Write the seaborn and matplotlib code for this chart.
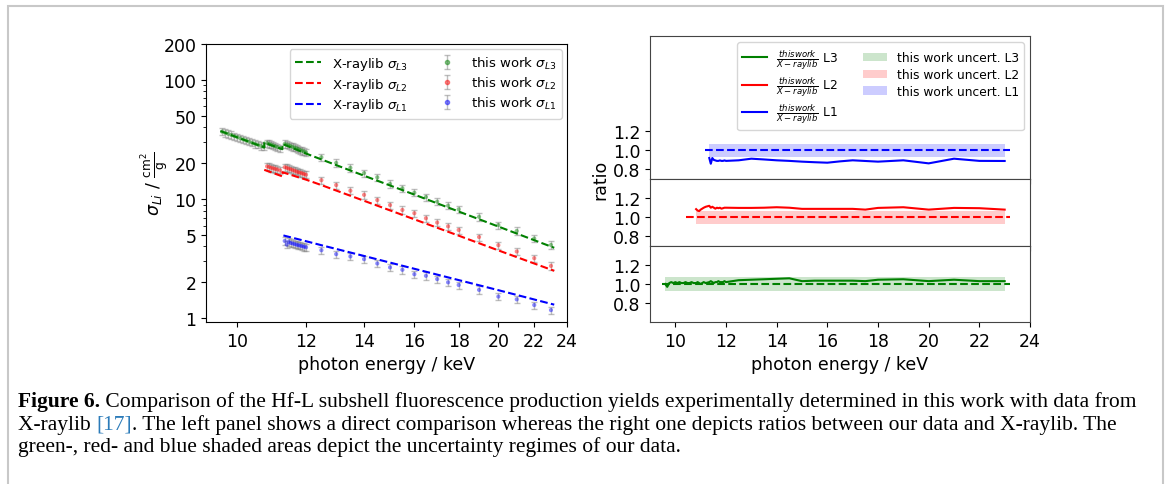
import numpy as np
import pandas as pd
import matplotlib
matplotlib.use("Agg")
import matplotlib.pyplot as plt
import seaborn as sns
from matplotlib.lines import Line2D
from matplotlib.patches import Patch, Rectangle
from matplotlib.legend_handler import HandlerTuple
from matplotlib.ticker import FixedLocator, NullLocator, NullFormatter, FuncFormatter, LogLocator

# ---------------- data ----------------
E_SEG_A = [9.60, 9.68, 9.76, 9.84, 9.92, 10.00, 10.08, 10.16, 10.24, 10.32, 10.40, 10.48, 10.56, 10.64, 10.72]
E_SEG_B = [10.82, 10.88, 10.94, 11.00, 11.06, 11.12, 11.20]
E_SEG_C = [11.34, 11.40, 11.46, 11.52, 11.58, 11.64, 11.70, 11.76, 11.82, 11.88, 11.94, 12.00]
E_SPARSE = [12.5, 13.0, 13.5, 14.0, 14.5, 15.0, 15.5, 16.0, 16.5, 17.0, 17.5, 18.0, 19.0, 20.0, 21.0, 22.0, 23.0]

E_L3 = E_SEG_A + E_SEG_B + E_SEG_C + E_SPARSE
E_L2 = E_SEG_B + E_SEG_C + E_SPARSE
E_L1 = E_SEG_C + E_SPARSE

WORK_L3 = [36.8, 36.0, 35.2, 34.5, 33.7, 33.0, 32.3, 31.6, 31.0, 30.3, 29.7, 29.1, 28.6, 28.0, 27.5,
           29.5, 29.0, 28.6, 28.1, 27.7, 27.3, 26.8,
           29.0, 28.6, 28.2, 27.8, 27.4, 27.0, 26.6, 26.2, 25.8, 25.4, 25.0, 24.6,
           22.4, 20.1, 18.3, 16.5, 15.2, 13.4, 12.3, 11.3, 10.4, 9.5, 8.8, 8.2, 7.1, 6.05, 5.4, 4.66, 4.12]
WORK_L2 = [18.8, 18.6, 18.3, 18.1, 17.9, 17.7, 17.4,
           18.5, 18.3, 18.0, 17.8, 17.5, 17.3, 17.0, 16.8, 16.6, 16.4, 16.2, 16.0,
           14.4, 13.1, 11.75, 10.85, 9.8, 8.9, 8.1, 7.6, 6.9, 6.35, 5.9, 5.5, 4.8, 4.1, 3.63, 3.19, 2.75]
WORK_L1 = [4.45, 4.15, 4.38, 4.28, 4.24, 4.19, 4.14, 4.10, 4.06, 4.02, 3.98, 3.94,
           3.72, 3.45, 3.30, 3.13, 2.88, 2.67, 2.55, 2.34, 2.27, 2.13, 2.00, 1.90, 1.73, 1.52, 1.44, 1.29, 1.17]

RATIO_L3 = [1.00, 0.97, 1.01, 1.02, 1.01, 1.02, 1.01, 1.02, 1.01, 1.01, 1.02, 1.01, 1.01, 1.02, 1.01,
            1.01, 1.02, 1.01, 1.00, 1.01, 1.02, 1.01,
            1.02, 1.03, 1.02, 1.01, 1.02, 1.02, 1.03, 1.02, 1.02, 1.02, 1.03, 1.02,
            1.04, 1.045, 1.05, 1.055, 1.06, 1.03, 1.035, 1.035, 1.035, 1.035, 1.03, 1.045, 1.05, 1.03, 1.045, 1.03, 1.03]
RATIO_L2 = [1.085, 1.07, 1.065, 1.08, 1.09, 1.10, 1.11,
            1.12, 1.10, 1.11, 1.10, 1.09, 1.10, 1.095, 1.10, 1.09, 1.095, 1.10, 1.10,
            1.098, 1.098, 1.10, 1.105, 1.10, 1.088, 1.088, 1.088, 1.088, 1.088, 1.08, 1.098, 1.105, 1.08, 1.098, 1.095, 1.08]
RATIO_L1 = [0.92, 0.86, 0.92, 0.90, 0.895, 0.89, 0.89, 0.895, 0.89, 0.89, 0.895, 0.89,
            0.896, 0.913, 0.905, 0.896, 0.89, 0.882, 0.876, 0.871, 0.885, 0.896, 0.889, 0.882, 0.896, 0.864, 0.913, 0.89, 0.889]

XRL_E_L3 = [9.56, 10.74, 10.74, 11.27, 11.27, 12.0, 12.5, 14.0, 16.0, 18.0, 20.0, 23.2]
XRL_L3 = [37.2, 27.1, 29.7, 26.2, 29.0, 24.1, 21.5, 15.7, 10.9, 7.86, 5.88, 3.9]
XRL_E_L2 = [10.74, 11.27, 11.27, 12.0, 12.5, 14.0, 16.0, 18.0, 20.0, 23.2]
XRL_L2 = [17.6, 15.5, 16.8, 14.55, 13.1, 9.67, 6.76, 4.93, 3.71, 2.50]
XRL_E_L1 = [11.30, 12.0, 12.5, 14.0, 16.0, 18.0, 20.0, 23.2]
XRL_L1 = [4.95, 4.43, 4.10, 3.33, 2.60, 2.09, 1.72, 1.30]

REF_SPAN_L3 = [9.47, 23.2]
REF_SPAN_L2 = [10.43, 23.2]
REF_SPAN_L1 = [11.19, 23.2]

UNCERT = {"L3": 0.07, "L2": 0.07, "L1": 0.07}

SHELLS = ["L3", "L2", "L1"]
COLORS = {"L3": "green", "L2": "red", "L1": "blue"}
E = {"L3": E_L3, "L2": E_L2, "L1": E_L1}
WORK = {"L3": WORK_L3, "L2": WORK_L2, "L1": WORK_L1}
RATIO = {"L3": RATIO_L3, "L2": RATIO_L2, "L1": RATIO_L1}
XRL_E = {"L3": XRL_E_L3, "L2": XRL_E_L2, "L1": XRL_E_L1}
XRL = {"L3": XRL_L3, "L2": XRL_L2, "L1": XRL_L1}
REF_SPAN = {"L3": REF_SPAN_L3, "L2": REF_SPAN_L2, "L1": REF_SPAN_L1}

LEFT_YTICKS = [1, 2, 5, 10, 20, 50, 100, 200]
XTICKS = [10, 12, 14, 16, 18, 20, 22, 24]
RATIO_TICKS = [0.8, 1.0, 1.2]

CAPTION = [
    [("Figure 6.", "bold", "black"),
     (" Comparison of the Hf-L subshell fluorescence production yields experimentally determined in this work with data from", "normal", "black")],
    [("X-raylib ", "normal", "black"), ("[17]", "normal", "#2b7bb9"),
     (". The left panel shows a direct comparison whereas the right one depicts ratios between our data and X-raylib. The", "normal", "black")],
    [("green-, red- and blue shaded areas depict the uncertainty regimes of our data.", "normal", "black")],
]

# ---------------- style ----------------
plt.rcParams["font.family"] = ["DejaVu Sans"]
plt.rcParams["mathtext.fontset"] = "dejavusans"
FS = 12.5
plt.rcParams["xtick.labelsize"] = FS
plt.rcParams["ytick.labelsize"] = FS
plt.rcParams["axes.labelsize"] = FS

W, H = 1167, 485
fig = plt.figure(figsize=(W / 100, H / 100), dpi=100)
fig.patch.set_facecolor("white")

def fr(x0, y0, x1, y1):
    return [x0 / W, 1 - y1 / H, (x1 - x0) / W, (y1 - y0) / H]

fmt_g = FuncFormatter(lambda v, p: f"{v:g}")

# ---------------- left panel ----------------
axL = fig.add_axes(fr(206, 45, 567, 323))
axL.set_xscale("log")
axL.set_yscale("log")
handles_x, handles_w = [], []
for s in SHELLS:
    c = COLORS[s]
    sns.lineplot(x=XRL_E[s], y=XRL[s], ax=axL, color=c, linestyle="--", lw=1.5,
                 estimator=None, sort=False, zorder=4)
    w = np.array(WORK[s])
    err = axL.errorbar(E[s], w, yerr=UNCERT[s] * w, fmt="none", ecolor="grey", alpha=0.5,
                       capsize=2.5, elinewidth=1, capthick=1, zorder=2)
    sns.scatterplot(x=E[s], y=w, ax=axL, color=c, s=9, alpha=0.45, edgecolor="none", zorder=3)
    handles_x.append(Line2D([], [], color=c, linestyle="--", lw=1.5))
    handles_w.append((err, Line2D([], [], marker="o", ls="", color=c, alpha=0.45, markersize=3)))
labels_x = [r"X-raylib $\sigma_{L3}$", r"X-raylib $\sigma_{L2}$", r"X-raylib $\sigma_{L1}$"]
labels_w = [r"this work $\sigma_{L3}$", r"this work $\sigma_{L2}$", r"this work $\sigma_{L1}$"]
axL.legend(handles_x + handles_w, labels_x + labels_w, ncol=2, loc="upper right",
           fontsize=9.5, handler_map={tuple: HandlerTuple(ndivide=1)}, columnspacing=2.0,
           labelspacing=0.3, framealpha=0.8, borderaxespad=0.4)
axL.set_xlim(9.2, 24)
axL.set_ylim(0.93, 200)
axL.xaxis.set_major_locator(FixedLocator(XTICKS))
axL.xaxis.set_major_formatter(fmt_g)
axL.xaxis.set_minor_locator(NullLocator())
axL.yaxis.set_major_locator(FixedLocator(LEFT_YTICKS))
axL.yaxis.set_major_formatter(fmt_g)
axL.yaxis.set_minor_locator(LogLocator(base=10, subs=np.arange(2, 10)))
axL.yaxis.set_minor_formatter(NullFormatter())
axL.set_xlabel("photon energy / keV")
axL.set_ylabel("")
fig.text(155 / W, 1 - 184 / H, r"$\sigma_{Li}$ / $\frac{\mathrm{cm}^2}{\mathrm{g}}$",
         rotation=90, ha="center", va="center", fontsize=FS)

# ---------------- right panels ----------------
ax_top = fig.add_axes(fr(650, 37, 1030, 180))
ax_mid = fig.add_axes(fr(650, 180, 1030, 247))
ax_bot = fig.add_axes(fr(650, 247, 1030, 323))
panel = {"L1": (ax_top, (0.7, 2.2)), "L2": (ax_mid, (0.7, 1.4)), "L3": (ax_bot, (0.6, 1.4))}
for s in SHELLS:
    ax, yl = panel[s]
    c = COLORS[s]
    u = UNCERT[s]
    ax.fill_between([E[s][0], E[s][-1]], [1 - u, 1 - u], [1 + u, 1 + u], color=c, alpha=0.2, lw=0)
    sns.lineplot(x=REF_SPAN[s], y=[1.0, 1.0], ax=ax, color=c, linestyle="--", lw=1.5,
                 estimator=None, sort=False)
    sns.lineplot(x=E[s], y=RATIO[s], ax=ax, color=c, lw=1.5, estimator=None, sort=False)
    ax.set_xlim(9, 24)
    ax.set_ylim(*yl)
    ax.yaxis.set_major_locator(FixedLocator(RATIO_TICKS))
    ax.yaxis.set_major_formatter(FuncFormatter(lambda v, p: f"{v:.1f}"))
    ax.xaxis.set_major_locator(FixedLocator(XTICKS))
    ax.set_xlabel("")
    ax.set_ylabel("")
    if ax is not ax_bot:
        ax.tick_params(axis="x", labelbottom=False)
    for sp in ax.spines.values():
        sp.set_color("#444444")
ax_bot.xaxis.set_major_formatter(fmt_g)
ax_bot.set_xlabel("photon energy / keV")
fig.text(600 / W, 1 - 180 / H, "ratio", rotation=90, ha="center", va="center", fontsize=FS)

rh = [Line2D([], [], color=COLORS[s], lw=1.5) for s in SHELLS]
rl = [r"$\frac{thiswork}{X-raylib}$ " + s for s in SHELLS]
ph = [Patch(facecolor=COLORS[s], alpha=0.2, edgecolor="none") for s in SHELLS]
pl = ["this work uncert. " + s for s in SHELLS]
ax_top.legend(rh + ph, rl + pl, ncol=2, loc="upper right", fontsize=8.8, framealpha=0.8,
              labelspacing=0.3, borderaxespad=0.5)

# ---------------- caption ----------------
renderer = fig.canvas.get_renderer()
cap_fs = 15.5
baselines = [407, 430, 452]
for line, yb in zip(CAPTION, baselines):
    x = 18
    for txt, weight, color in line:
        t = fig.text(x / W, 1 - yb / H, txt, fontsize=cap_fs, fontweight=weight, color=color,
                     family=["Liberation Serif", "DejaVu Serif"], ha="left", va="baseline")
        x += t.get_window_extent(renderer=renderer).width

fig.patches.append(Rectangle((8 / W, -0.1), (1163 - 8) / W, 0.1 + 1 - 7 / H, transform=fig.transFigure,
                             fill=False, edgecolor="#c8c8c8", lw=1.5))

fig.savefig("out.png", dpi=100)
